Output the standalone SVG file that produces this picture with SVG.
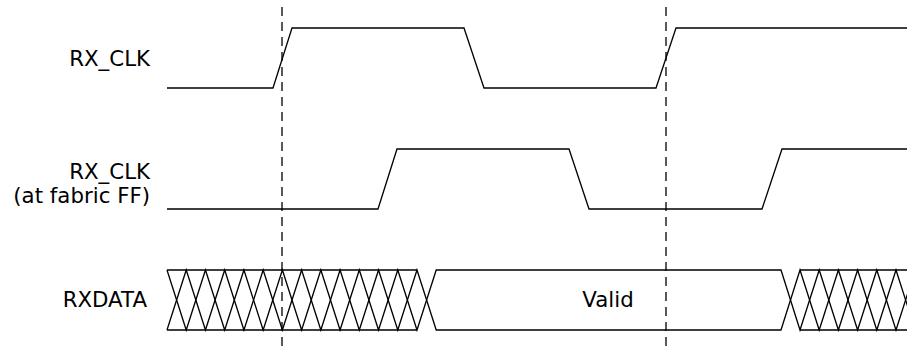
<svg xmlns="http://www.w3.org/2000/svg" width="907" height="352" viewBox="0 0 907 352">
<style>
text{font-family:"DejaVu Sans","Liberation Sans",sans-serif;font-size:21.33px;fill:#000}
.lbl{text-anchor:end}
.w{fill:none;stroke:#000;stroke-width:1.3;stroke-linejoin:miter}
.dash{fill:none;stroke:#000;stroke-width:1.3;stroke-dasharray:9 6}
</style>
<rect width="907" height="352" fill="#fff"/>
<g id="rx_clk">
<text class="lbl" x="150" y="66">RX_CLK</text>
<polyline class="w" points="167,88 273,88 292,28 464,28 484,88 656,88 676,28 907,28"/>
</g>
<g id="rx_clk_fabric">
<text class="lbl" x="150" y="179">RX_CLK</text>
<text class="lbl" x="150" y="203">(at fabric FF)</text>
<polyline class="w" points="167,209 378,209 397,149 569,149 589,209 762,209 782,149 907,149"/>
</g>
<g id="rxdata">
<text class="lbl" x="147" y="307">RXDATA</text>
<path class="w" d="M167,270 L186.23,330 L205.46,270 L224.69,330 L243.92,270 L263.15,330 L282.38,270 L301.61,330 L320.84,270 L340.07,330 L359.3,270 L378.53,330 L397.76,270 L416.99,330 L436.22,270 L781,270 L800,330 L819.2,270 L838.4,330 L857.6,270 L876.8,330 L896,270 L915.2,330"/>
<path class="w" d="M167,330 L186.23,270 L205.46,330 L224.69,270 L243.92,330 L263.15,270 L282.38,330 L301.61,270 L320.84,330 L340.07,270 L359.3,330 L378.53,270 L397.76,330 L416.99,270 L436.22,330 L781,330 L800,270 L819.2,330 L838.4,270 L857.6,330 L876.8,270 L896,330 L915.2,270"/>
<path class="w" d="M167,270 H416.99 M167,330 H416.99 M800,270 H907 M800,330 H907"/>
<text x="608" y="307" text-anchor="middle">Valid</text>
</g>
<g id="connectors">
<line class="dash" x1="282" y1="7" x2="282" y2="352"/>
<line class="dash" x1="666" y1="7" x2="666" y2="352"/>
</g>
</svg>
